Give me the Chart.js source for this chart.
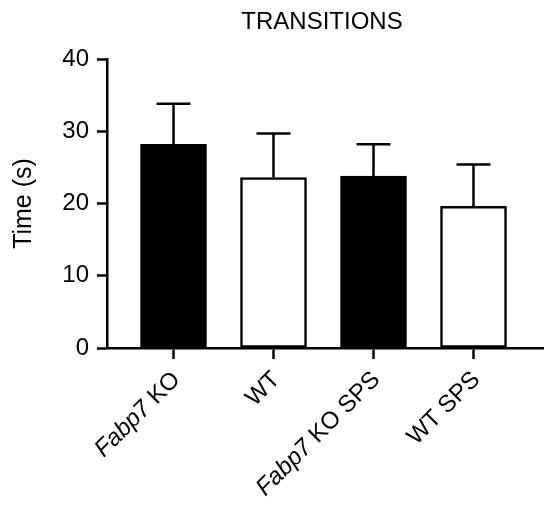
<!DOCTYPE html>
<html>
<head>
<meta charset="utf-8">
<script src="https://cdn.jsdelivr.net/npm/chart.js@4"></script>
<style>
  html, body { margin: 0; padding: 0; background: #fff; }
  #wrap { width: 550px; height: 508px; position: relative; }
</style>
</head>
<body>
<div id="wrap"><canvas id="c"></canvas></div>
<script>
// ---- data ----
const categories = ["Fabp7 KO", "WT", "Fabp7 KO SPS", "WT SPS"];
const italicPart = ["Fabp7", "", "Fabp7", ""];
const restPart = [" KO", "WT", " KO SPS", "WT SPS"];
const means = [28.2, 23.6, 23.8, 19.6];
const errors = [5.6, 6.1, 4.4, 5.8];
const fills = ["#000000", "#ffffff", "#000000", "#ffffff"];
const yTicks = [0, 10, 20, 30, 40];
const chartTitle = "TRANSITIONS";
const yTitle = "Time (s)";

const FONT = "'Liberation Sans', Arial, sans-serif";

const errorBars = {
  id: 'errorBars',
  afterDatasetsDraw(chart) {
    const ctx = chart.ctx;
    const xs = chart.scales.x, ys = chart.scales.y;
    ctx.save();
    ctx.strokeStyle = '#000';
    ctx.lineWidth = 2.5;
    means.forEach((m, i) => {
      const x = xs.getPixelForValue(i);
      const y0 = ys.getPixelForValue(m);
      const y1 = ys.getPixelForValue(m + errors[i]);
      ctx.beginPath();
      ctx.moveTo(x, y0);
      ctx.lineTo(x, y1);
      ctx.moveTo(x - 17, y1);
      ctx.lineTo(x + 17, y1);
      ctx.stroke();
    });
    ctx.restore();
  }
};

const texts = {
  id: 'texts',
  afterDraw(chart) {
    const ctx = chart.ctx;
    const xs = chart.scales.x;
    const ca = chart.chartArea;
    ctx.save();
    ctx.fillStyle = '#000';
    // title
    ctx.font = "24px " + FONT;
    ctx.textAlign = 'center';
    ctx.textBaseline = 'middle';
    ctx.fillText(chartTitle, (ca.left + ca.right) / 2 - 3, 22);
    // y title
    ctx.save();
    ctx.translate(24, (ca.top + ca.bottom) / 2);
    ctx.rotate(-Math.PI / 2);
    ctx.font = "25px " + FONT;
    ctx.fillText(yTitle, 0, 0);
    ctx.restore();
    // x labels
    categories.forEach((c, i) => {
      const x = xs.getPixelForValue(i);
      ctx.save();
      ctx.translate(x + 3, ca.bottom + 28);
      ctx.rotate(-Math.PI / 4);
      ctx.font = "24px " + FONT;
      const wRest = ctx.measureText(restPart[i]).width;
      ctx.textAlign = 'right';
      ctx.fillText(restPart[i], 0, 0);
      if (italicPart[i]) {
        ctx.font = "italic 24px " + FONT;
        ctx.fillText(italicPart[i], -wRest, 0);
      }
      ctx.restore();
    });
    ctx.restore();
  }
};

new Chart(document.getElementById('c'), {
  type: 'bar',
  data: {
    datasets: [{
      data: means.map((v, i) => ({ x: i, y: v })),
      backgroundColor: fills,
      borderColor: '#000',
      borderWidth: 2.5,
      borderSkipped: false,
      barThickness: 66
    }]
  },
  options: {
    responsive: true,
    maintainAspectRatio: false,
    animation: false,
    layout: { padding: { left: 10, right: 7, top: 59, bottom: 149 } },
    plugins: {
      legend: { display: false },
      tooltip: { enabled: false },
      title: { display: false }
    },
    scales: {
      x: {
        type: 'linear',
        min: -0.665,
        max: 3.695,
        offset: false,
        afterBuildTicks: (s) => { s.ticks = categories.map((c, i) => ({ value: i })); },
        grid: { offset: false, drawOnChartArea: false, tickLength: 11, tickColor: '#000', tickWidth: 2.5 },
        border: { color: '#000', width: 2.5 },
        ticks: { display: false }
      },
      y: {
        min: 0,
        max: 40,
        afterBuildTicks: (s) => { s.ticks = yTicks.map(v => ({ value: v })); },
        afterFit: (s) => { s.width = 97; },
        grid: { drawOnChartArea: false, tickLength: 10, tickColor: '#000', tickWidth: 2.5 },
        border: { color: '#000', width: 2.5 },
        ticks: { color: '#000', padding: 8, font: { family: FONT, size: 24 } },
        title: { display: false }
      }
    }
  },
  plugins: [errorBars, texts]
});
</script>
</body>
</html>
